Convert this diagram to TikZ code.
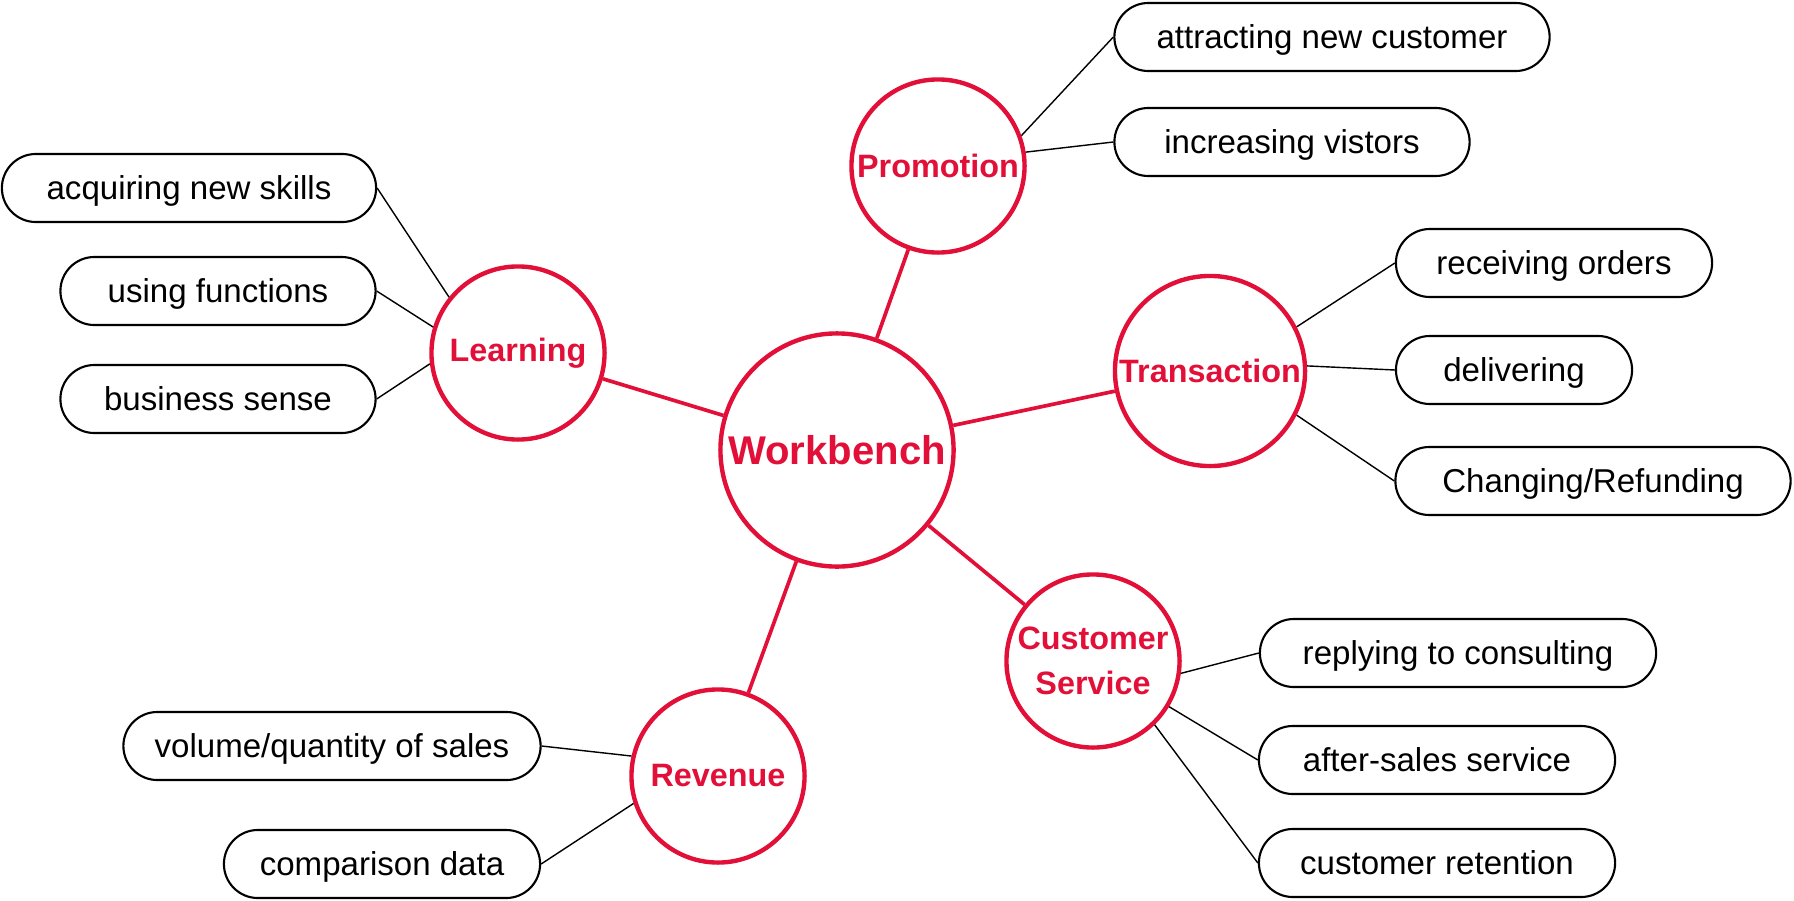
\documentclass[tikz,border=0pt]{standalone}
\usepackage{fontspec}
\setmainfont{Liberation Sans}
\usepackage{tikz}
\definecolor{wbred}{RGB}{226,16,56}

\begin{document}
\begin{tikzpicture}[x=0.01cm,y=-0.01cm,
   topic/.style={circle,draw=wbred,line width=1.25pt,text=wbred,inner sep=0pt,align=center,
      minimum size=1.73cm,font=\fontsize{9.2}{12.7}\selectfont\bfseries},
   item/.style={draw,line width=0.6pt,rounded corners=0.34cm,minimum height=0.68cm,
      text depth=0pt,font=\fontsize{9.4}{11}\selectfont},
   hub/.style={wbred,line width=1.05pt},
   leaf/.style={black,line width=0.4pt}]
   \useasboundingbox (0,0) rectangle (1794,900);
   \node[topic,minimum size=2.33cm,font=\fontsize{11.4}{13}\selectfont\bfseries] (w_0) at (837,450) {Workbench};
   \node[topic] (p_0) at (938,166) {Promotion};
   \node[topic] (l_0) at (518,353) {Learning};
   \node[topic,minimum size=1.9cm] (t_0) at (1210,371) {Transaction};
   \node[topic,text depth=0pt] (c_0) at (1093,661) {Customer\\Service};
   \node[topic] (r_0) at (718,776) {Revenue};
   \node[item,minimum width=4.35cm] (p_1) at (1332,37) {attracting new customer};
   \node[item,minimum width=3.55cm] (p_2) at (1292,142) {increasing vistors};
   \node[item,minimum width=3.74cm] (l_1) at (189,188) {acquiring new skills};
   \node[item,minimum width=3.15cm] (l_2) at (218,291) {using functions};
   \node[item,minimum width=3.15cm] (l_3) at (218,399) {business sense};
   \node[item,minimum width=3.16cm] (t_1) at (1554,263) {receiving orders};
   \node[item,minimum width=2.36cm] (t_2) at (1514,370) {delivering};
   \node[item,minimum width=3.95cm] (t_3) at (1593,481) {Changing/Refunding};
   \node[item,minimum width=3.96cm] (c_1) at (1458,653) {replying to consulting};
   \node[item,minimum width=3.56cm] (c_2) at (1437,760) {after-sales service};
   \node[item,minimum width=3.56cm] (c_3) at (1437,863) {customer retention};
   \node[item,minimum width=4.17cm] (r_1) at (332,746) {volume/quantity of sales};
   \node[item,minimum width=3.16cm] (r_2) at (382,864) {comparison data};
    \path[hub]
    (w_0) edge (p_0)
          edge (l_0)
          edge (t_0)
          edge (c_0)
          edge (r_0);
    \path[leaf]
    (p_0.20) edge (p_1.west)
    (p_0.9) edge (p_2.west)
    (l_0.141) edge (l_1.east)
    (l_0.163) edge (l_2.east)
    (l_0.-173) edge (l_3.east)
    (t_0.27) edge (t_1.west)
    (t_0.3) edge (t_2.west)
    (t_0.-27) edge (t_3.west)
    (c_0.-8) edge (c_1.west)
    (c_0.-31) edge (c_2.west)
    (c_0.-46) edge (c_3.west)
    (r_0.167) edge (r_1.east)
    (r_0.-162) edge (r_2.east);
\end{tikzpicture}
\end{document}
